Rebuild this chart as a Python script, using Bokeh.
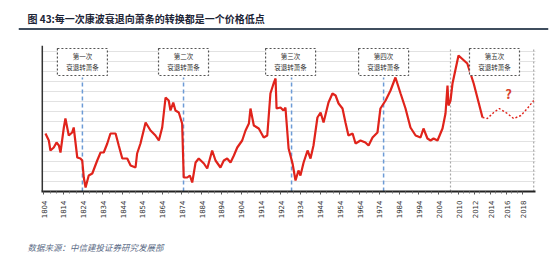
import numpy as np
from bokeh.plotting import figure
from bokeh.layouts import column
from bokeh.models import Range1d, FixedTicker, Label, Span
from bokeh.core.properties import value
from bokeh.embed import file_html
from bokeh.resources import INLINE

# ---------------- data ----------------
title_text = "图 43:每一次康波衰退向萧条的转换都是一个价格低点"
source_text = "数据来源：中信建投证券研究发展部"

tick_years = [1804, 1814, 1824, 1834, 1844, 1854, 1864, 1874, 1884, 1894,
              1904, 1914, 1924, 1934, 1944, 1954, 1964, 1974, 1984, 1994,
              2004, 2010, 2012, 2014, 2016, 2018]

price_years = [1805.0, 1806.7, 1807.5, 1809.2, 1810.6, 1811.8, 1812.6, 1814.3, 1815.1,
               1816.8, 1818.5, 1819.3, 1821.1, 1822.7, 1823.6, 1824.4, 1825.3, 1826.9,
               1828.7, 1831.2, 1832.9, 1834.5, 1836.3, 1837.9, 1840.5, 1842.1, 1843.9,
               1846.4, 1848.1, 1850.6, 1851.4, 1853.1, 1855.7, 1858.2, 1860.7, 1862.4,
               1864.1, 1865.8, 1867.4, 1868.3, 1869.7, 1870.8, 1872.5, 1874.2, 1875.0,
               1876.8, 1878.1, 1879.3, 1881.0, 1882.6, 1885.2, 1886.9, 1889.4, 1891.1,
               1893.6, 1895.3, 1897.0, 1898.7, 1900.4, 1902.1, 1904.6, 1906.3, 1908.0,
               1908.8, 1910.5, 1913.0, 1915.5, 1917.3, 1918.9, 1920.5, 1921.5, 1922.0,
               1924.0, 1925.5, 1926.5, 1928.1, 1930.1, 1931.6, 1933.1, 1934.1, 1935.7,
               1937.7, 1939.2, 1940.7, 1942.7, 1944.3, 1945.8, 1948.3, 1950.3, 1951.9,
               1953.4, 1955.4, 1956.9, 1958.4, 1960.5, 1962.0, 1964.5, 1967.0, 1968.6,
               1970.6, 1973.1, 1974.6, 1977.2, 1979.7, 1982.2, 1984.8, 1987.3, 1989.8,
               1992.4, 1994.9, 1996.4, 1998.4, 2000.0, 2001.5, 2003.5, 2005.2, 2006.1,
               2006.7, 2007.0, 2007.6, 2008.2, 2010.0, 2011.1, 2011.9, 2013.0]
price_values = [58, 51, 41, 44, 49, 46, 39, 64, 73,
                56, 59, 64, 34, 33, 31, 14, 4, 16,
                18, 31, 39, 39, 48, 58, 58, 46, 33,
                33, 26, 24, 38, 48, 69, 61, 56, 51,
                64, 94, 91, 81, 89, 81, 79, 68, 14,
                14, 16, 9, 29, 33, 28, 23, 41, 31,
                24, 31, 33, 29, 36, 44, 51, 61, 68,
                83, 66, 63, 54, 56, 98, 108, 113, 83,
                84, 81, 84, 43, 28, 11, 21, 16, 29,
                41, 33, 46, 74, 79, 69, 89, 98, 96,
                88, 83, 69, 56, 58, 48, 51, 49, 46,
                54, 59, 83, 91, 101, 114, 98, 83, 64,
                56, 54, 63, 53, 51, 53, 51, 63, 78,
                106, 86, 91, 108, 136, 128, 108, 74]

proj_years = [2013.0, 2013.6, 2014.4, 2015.1, 2016.1, 2016.9, 2017.8, 2018.6, 2019.4]
proj_values = [74, 73, 79, 83, 78, 73, 76, 83, 91]

wave_years = [1823.7, 1874.9, 1929.6, 1976.2]
box_years = [1823.7, 1874.9, 1929.1, 1976.2, 2014.5]
box_line1 = ["第一次", "第二次", "第三次", "第四次", "第五次"]
box_line2 = ["衰退转萧条", "衰退转萧条", "衰退转萧条", "衰退转萧条", "衰退转萧条"]
forecast_span = [2007.6, 2019.4]

# piecewise axis scale (the chart compresses history and stretches the forecast)
AX_YEARS = [1804, 2004, 2010, 2020]
AX_POS = [43, 438, 458, 538]


def pos(y):
    return np.interp(np.asarray(y, dtype=float), AX_YEARS, AX_POS)


FONT = "Noto Sans CJK SC"
RED = "#e0231b"
W = 550
XL, XR = 18, 548          # shared frame extent (pixel-like units)
PL, PR = 41, 535          # plot area proper


def bare(height):
    f = figure(width=W, height=height, output_backend="svg", toolbar_location=None,
               x_range=Range1d(XL, XR), y_range=Range1d(0, height),
               x_axis_location=None, y_axis_location=None,
               min_border=0, min_border_left=XL, min_border_right=W - XR,
               min_border_top=0, min_border_bottom=0)
    f.grid.visible = False
    f.outline_line_color = None
    f.background_fill_color = "white"
    f.border_fill_color = "white"
    return f


# ---------------- header ----------------
head = bare(45)
head.text(x=[27], y=[45 - 17.5], text=[title_text], text_font=value(FONT),
          text_font_size="10px", text_font_style="bold", text_color="#1c2436",
          text_baseline="middle")
head.quad(left=[XL], right=[XR], bottom=[45 - 29.5], top=[45 - 27.5],
          fill_color="#3f4d5e", line_color=None)

# ---------------- main chart ----------------
p = figure(width=W, height=181, output_backend="svg", toolbar_location=None,
           x_range=Range1d(XL, XR), y_range=Range1d(0, 146),
           min_border_left=XL, min_border_right=W - XR, min_border_top=0,
           min_border_bottom=35)
p.background_fill_color = "white"
p.border_fill_color = "white"
p.outline_line_color = None

tick_pos = [float(v) for v in pos(tick_years)]
minor = []
for a, b in zip(tick_pos[:-1], tick_pos[1:]):
    minor += [a + (b - a) / 3, a + 2 * (b - a) / 3]
p.xaxis.ticker = FixedTicker(ticks=tick_pos, minor_ticks=minor)
p.xaxis.bounds = (PL, PR)
p.xaxis.major_label_overrides = {t: str(y) for t, y in zip(tick_pos, tick_years)}
p.xaxis.major_label_orientation = np.pi / 2
p.xaxis.major_label_text_font_size = "7px"
p.xaxis.major_label_text_color = "#333333"
p.xaxis.major_label_text_font = "DejaVu Sans"
p.xaxis.major_label_standoff = 6
p.xaxis.axis_line_color = "#222222"
p.xaxis.axis_line_width = 2
p.xaxis.major_tick_line_color = "#555555"
p.xaxis.major_tick_out = 3
p.xaxis.major_tick_in = 0
p.xaxis.minor_tick_line_color = "#777777"
p.xaxis.minor_tick_out = 2
p.xaxis.minor_tick_in = 0

p.yaxis.visible = False
grid_vals = list(range(10, 146, 10))
p.xgrid.grid_line_color = None
try:
    p.ygrid.ticker = FixedTicker(ticks=grid_vals)
    p.ygrid.cross_bounds = (PL, PR)
    p.ygrid.grid_line_color = "#e2e2e2"
    p.ygrid.grid_line_width = 1
except AttributeError:
    p.ygrid.grid_line_color = None
    p.segment(x0=[PL] * len(grid_vals), y0=grid_vals, x1=[PR] * len(grid_vals),
              y1=grid_vals, line_color="#e2e2e2", line_width=1)

p.add_layout(Span(location=PL + 0.8, dimension="height", line_color="#333333",
                  line_width=1.5))

# forecast region dotted verticals
fx = [float(v) for v in pos(forecast_span)]
p.segment(x0=fx, y0=[0, 0], x1=fx, y1=[144, 144], line_color="#a8a8a8",
          line_dash="2 2", line_width=1.2)

# blue dashed transition lines
wx = [float(v) for v in pos(wave_years)]
p.segment(x0=wx, y0=[0] * len(wx), x1=wx, y1=[114] * len(wx), line_color="#6d9bd6",
          line_dash="4 3", line_width=1.5)

# price series
p.line(pos(price_years), price_values, line_color=RED, line_width=2.2)
p.line(pos(proj_years), proj_values, line_color=RED, line_width=1.4, line_dash="2 2")

# boxes
bx = [float(v) for v in pos(box_years)]
p.rect(x=bx, y=[129.5] * len(bx), width=50, height=27, fill_color="white",
       line_color="#555555", line_dash="2 2", line_width=1.2)
p.text(x=bx, y=[135.5] * len(bx), text=box_line1, text_font=value(FONT),
       text_font_size="6.5px", text_align="center", text_baseline="middle",
       text_color="#333333")
p.text(x=bx, y=[124.5] * len(bx), text=box_line2, text_font=value(FONT),
       text_font_size="6.5px", text_align="center", text_baseline="middle",
       text_color="#333333")

p.add_layout(Label(x=float(pos(2016.25)), y=98, text="?", text_font=FONT,
                   text_font_size="13px", text_font_style="bold", text_color="#d9412c",
                   text_align="center", text_baseline="middle"))

# ---------------- footer ----------------
foot = bare(30)
foot.text(x=[27], y=[30 - 20], text=[source_text], text_font=value(FONT),
          text_font_size="8.5px", text_font_style="italic", text_color="#5b6b86",
          text_baseline="middle")

layout = column(head, p, foot, spacing=0)
open("out.html", "w").write(file_html(layout, INLINE))
